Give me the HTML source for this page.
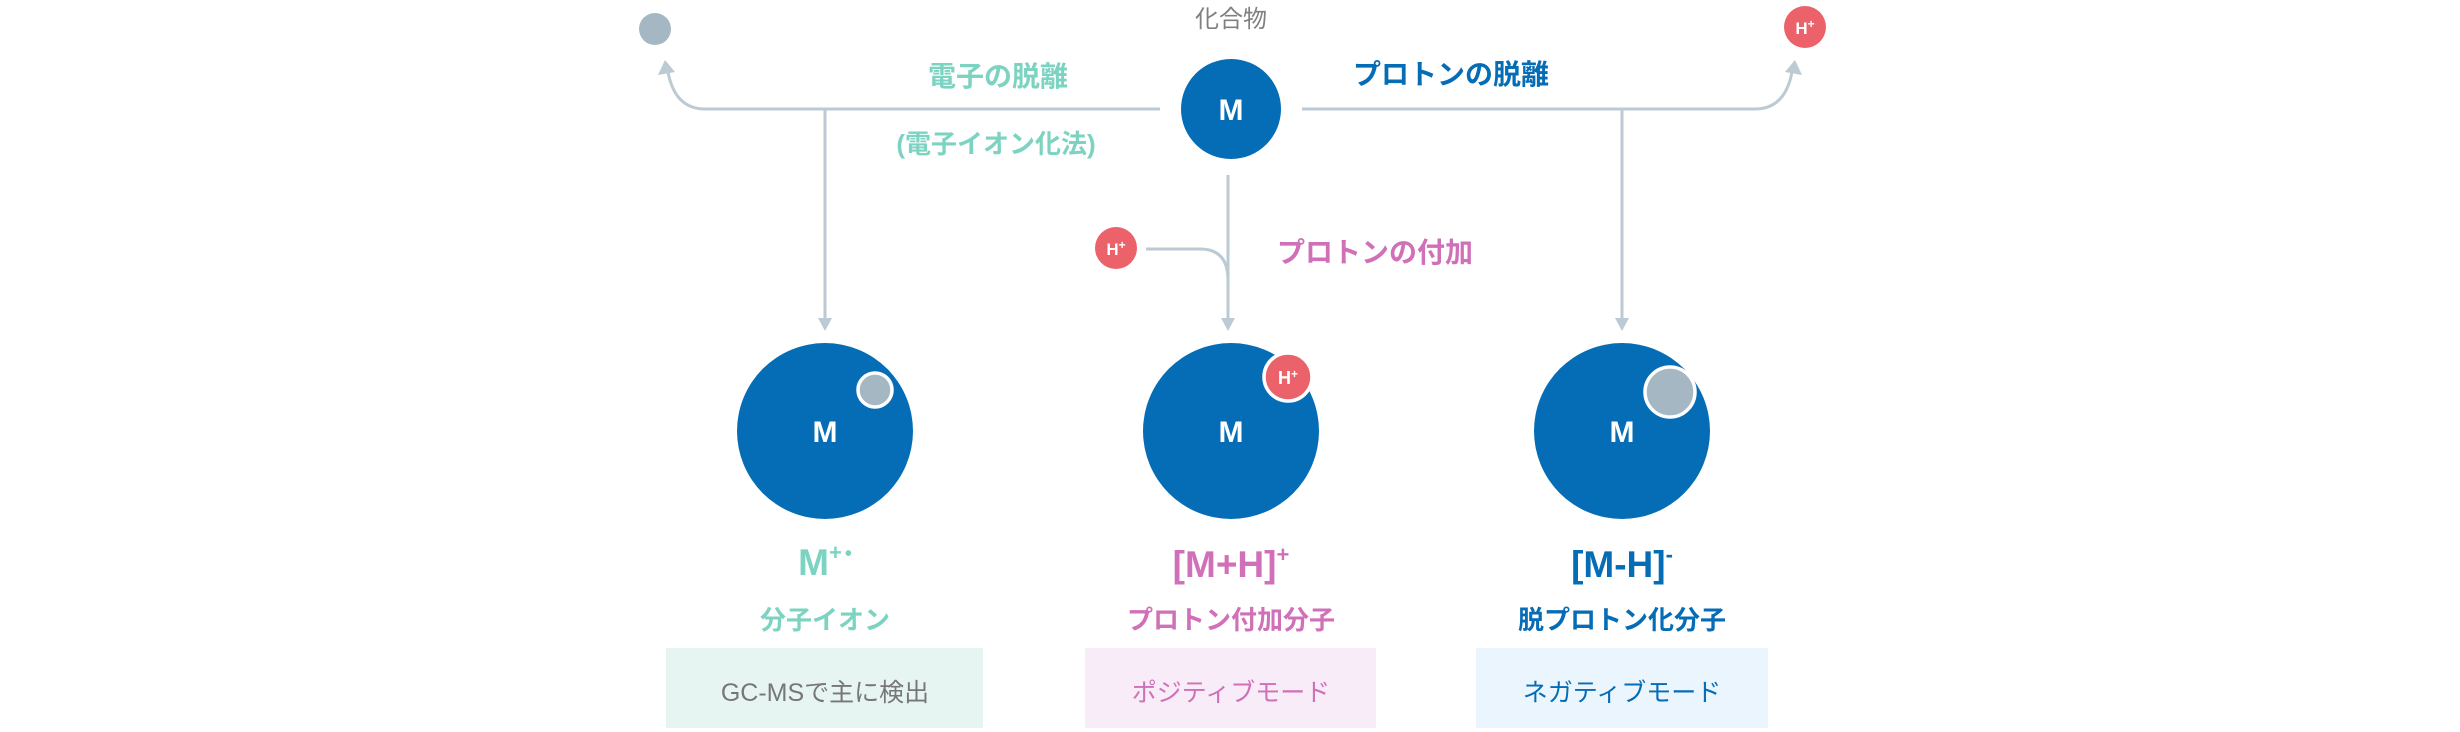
<!DOCTYPE html>
<html><head><meta charset="utf-8"><style>
html,body{margin:0;padding:0;background:#fff;}
svg{display:block;}
text{font-family:"Liberation Sans","Noto Sans CJK JP",sans-serif;}
</style></head><body>
<svg width="2460" height="732" viewBox="0 0 2460 732" xmlns="http://www.w3.org/2000/svg">
<g fill="none" stroke="#bccad3" stroke-width="3">
<path d="M1160 109 H705 Q675 109 668 72"/>
<path d="M1302 109 H1755 Q1785 109 1792 72"/>
<path d="M825 109 V320"/>
<path d="M1622 109 V320"/>
<path d="M1228 175 V320"/>
<path d="M1146 249 H1200 Q1228 249 1228 280"/>
</g>
<g fill="#bccad3">
<polygon points="665,60 658,75 675,72"/>
<polygon points="1795,60 1785,72 1802,75"/>
<polygon points="818,318 832,318 825,331"/>
<polygon points="1221,318 1235,318 1228,331"/>
<polygon points="1615,318 1629,318 1622,331"/>
</g>
<circle cx="655" cy="29" r="16" fill="#a5b7c2"/>
<circle cx="1805" cy="27" r="21" fill="#ec626a"/>
<text x="1805" y="34" font-size="17" font-weight="bold" fill="#fff" text-anchor="middle">H<tspan font-size="12" dy="-6">+</tspan></text>
<circle cx="1116" cy="248" r="21" fill="#ec626a"/>
<text x="1116" y="255" font-size="17" font-weight="bold" fill="#fff" text-anchor="middle">H<tspan font-size="12" dy="-6">+</tspan></text>
<text x="1231" y="27" font-size="24" fill="#808080" text-anchor="middle">化合物</text>
<circle cx="1231" cy="109" r="50" fill="#056cb6"/>
<text x="1231" y="120" font-size="30" font-weight="bold" fill="#fff" text-anchor="middle">M</text>
<text x="998" y="86" font-size="28" font-weight="bold" fill="#7dd3c1" text-anchor="middle">電子の脱離</text>
<text x="996" y="153" font-size="26" font-weight="bold" fill="#7dd3c1" text-anchor="middle">(電子イオン化法)</text>
<text x="1451" y="84" font-size="28" font-weight="bold" fill="#056cb6" text-anchor="middle">プロトンの脱離</text>
<text x="1375" y="262" font-size="28" font-weight="bold" fill="#d070b8" text-anchor="middle">プロトンの付加</text>
<circle cx="825" cy="431" r="88" fill="#056cb6"/>
<circle cx="875" cy="390" r="17" fill="#a5b7c2" stroke="#fff" stroke-width="3.5"/>
<text x="825" y="442" font-size="30" font-weight="bold" fill="#fff" text-anchor="middle">M</text>
<circle cx="1231" cy="431" r="88" fill="#056cb6"/>
<circle cx="1288" cy="377" r="24" fill="#ec626a" stroke="#fff" stroke-width="3.5"/>
<text x="1288" y="384" font-size="18" font-weight="bold" fill="#fff" text-anchor="middle">H<tspan font-size="12" dy="-6">+</tspan></text>
<text x="1231" y="442" font-size="30" font-weight="bold" fill="#fff" text-anchor="middle">M</text>
<circle cx="1622" cy="431" r="88" fill="#056cb6"/>
<circle cx="1670" cy="392" r="25" fill="#a5b7c2" stroke="#fff" stroke-width="3.5"/>
<text x="1622" y="442" font-size="30" font-weight="bold" fill="#fff" text-anchor="middle">M</text>
<text x="825" y="575" font-size="37" font-weight="bold" fill="#7dd3c1" text-anchor="middle">M<tspan font-size="22" dy="-15">+</tspan><tspan font-size="20" dx="3">•</tspan></text>
<text x="1231" y="577" font-size="37" font-weight="bold" fill="#d070b8" text-anchor="middle">[M+H]<tspan font-size="22" dy="-15">+</tspan></text>
<text x="1622" y="577" font-size="37" font-weight="bold" fill="#056cb6" text-anchor="middle">[M-H]<tspan font-size="22" dy="-15">-</tspan></text>
<text x="825" y="629" font-size="26" font-weight="bold" fill="#7dd3c1" text-anchor="middle">分子イオン</text>
<text x="1231" y="629" font-size="26" font-weight="bold" fill="#d070b8" text-anchor="middle">プロトン付加分子</text>
<text x="1622" y="629" font-size="26" font-weight="bold" fill="#056cb6" text-anchor="middle">脱プロトン化分子</text>
<rect x="666" y="648" width="317" height="80" fill="#e6f5f2"/>
<rect x="1085" y="648" width="291" height="80" fill="#f7ecf7"/>
<rect x="1476" y="648" width="292" height="80" fill="#eaf5fd"/>
<text x="825" y="701" font-size="25" fill="#777" text-anchor="middle">GC-MSで主に検出</text>
<text x="1231" y="701" font-size="25" fill="#d070b8" text-anchor="middle">ポジティブモード</text>
<text x="1622" y="701" font-size="25" fill="#056cb6" text-anchor="middle">ネガティブモード</text>
</svg>
</body></html>
